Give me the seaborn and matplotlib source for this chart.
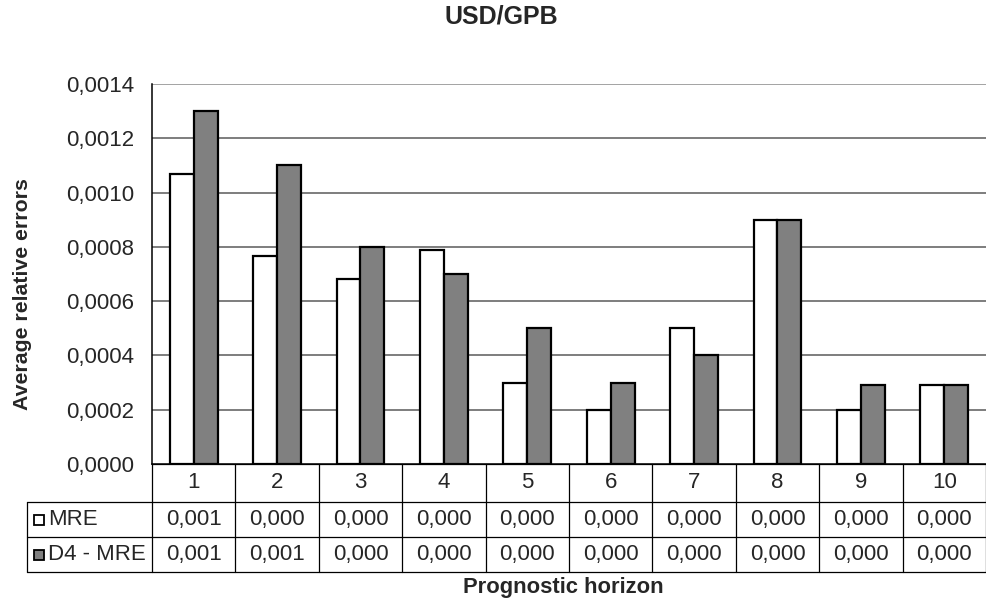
import numpy as np
import pandas as pd
import matplotlib
matplotlib.use("Agg")
import matplotlib.pyplot as plt
import matplotlib.transforms as mtransforms
from matplotlib.lines import Line2D
from matplotlib.patches import Rectangle
import seaborn as sns

# Average relative errors per prognostic horizon
horizons = ["1", "2", "3", "4", "5", "6", "7", "8", "9", "10"]
mre = [0.00107, 0.000765, 0.00068, 0.00079, 0.0003, 0.0002, 0.0005, 0.0009, 0.0002, 0.00029]
d4_mre = [0.0013, 0.0011, 0.0008, 0.0007, 0.0005, 0.0003, 0.0004, 0.0009, 0.00029, 0.00029]
series_names = ["MRE", "D4 - MRE"]
series_colors = ["#FFFFFF", "#808080"]
y_ticks = [0.0, 0.0002, 0.0004, 0.0006, 0.0008, 0.0010, 0.0012, 0.0014]

df = pd.DataFrame({
    "horizon": horizons * 2,
    "value": mre + d4_mre,
    "series": [series_names[0]] * len(horizons) + [series_names[1]] * len(horizons),
})

sns.set_theme(style="white")
plt.rcParams["font.family"] = ["Liberation Sans", "DejaVu Sans"]

W, H = 987, 603
fig = plt.figure(figsize=(W / 100, H / 100), dpi=100)
ax_left, ax_right, ax_top, ax_bottom = 152, 986, 84, 464
ax = fig.add_axes([ax_left / W, 1 - ax_bottom / H, (ax_right - ax_left) / W, (ax_bottom - ax_top) / H])

sns.barplot(data=df, x="horizon", y="value", hue="series", order=horizons,
            hue_order=series_names, palette=dict(zip(series_names, series_colors)),
            width=0.575, edgecolor="black", linewidth=1.6, saturation=1,
            legend=False, ax=ax, zorder=3)

ax.set_xlim(-0.5, len(horizons) - 0.5)
ax.set_ylim(0, 0.0014)
ax.set_yticks(y_ticks)
ax.set_yticklabels([f"{t:.4f}".replace(".", ",") for t in y_ticks], fontsize=16)
ax.set_xticks([])
ax.set_xlabel("")
ax.set_ylabel("")
for t in y_ticks[1:]:
    ax.axhline(t, color="#5a5a5a" if t < 0.0014 else "#8a8a8a", lw=1.1, zorder=1)
ax.tick_params(axis="y", direction="out", length=7, width=1, color="black", pad=6)
for side in ["top", "right"]:
    ax.spines[side].set_visible(False)
ax.spines["left"].set_color("black")
ax.spines["left"].set_linewidth(1.1)
ax.spines["bottom"].set_color("black")
ax.spines["bottom"].set_linewidth(1.1)

# Data table below the axes: x follows the category axis, y in figure pixels
tr = mtransforms.blended_transform_factory(ax.transData, fig.transFigure)
def fy(py):
    return 1 - py / H

unit = (ax_right - ax_left) / len(horizons)
label_left = -0.5 - (ax_left - 27) / unit
row_edges = [464, 502, 537, 572]
line_kw = dict(color="black", lw=0.9, transform=tr, clip_on=False)

# horizontal rules
fig.add_artist(Line2D([-0.5, len(horizons) - 0.5], [fy(row_edges[0])] * 2, **line_kw))
for py in row_edges[1:]:
    fig.add_artist(Line2D([label_left, len(horizons) - 0.5], [fy(py)] * 2, **line_kw))
# vertical rules
for k in range(len(horizons) + 1):
    fig.add_artist(Line2D([k - 0.5, k - 0.5], [fy(row_edges[0]), fy(row_edges[-1])], **line_kw))
fig.add_artist(Line2D([label_left, label_left], [fy(row_edges[1]), fy(row_edges[-1])], **line_kw))

def fmt_trunc(v):
    # values shown truncated to three decimals
    return f"{np.floor(v * 1000 + 1e-9) / 1000:.3f}".replace(".", ",")

cell_font = dict(fontsize=16, ha="center", va="center", transform=tr)
for i, h in enumerate(horizons):
    fig.text(i, fy((row_edges[0] + row_edges[1]) / 2), h, **cell_font)
    fig.text(i, fy((row_edges[1] + row_edges[2]) / 2), fmt_trunc(mre[i]), **cell_font)
    fig.text(i, fy((row_edges[2] + row_edges[3]) / 2), fmt_trunc(d4_mre[i]), **cell_font)

# row labels with legend keys
sq = 10
for r, (name, col) in enumerate(zip(series_names, series_colors)):
    yc = (row_edges[r + 1] + row_edges[r + 2]) / 2
    fig.add_artist(Rectangle((34 / W, fy(yc + sq / 2)), sq / W, sq / H,
                             transform=fig.transFigure, facecolor=col,
                             edgecolor="black", lw=1.3, clip_on=False))
    fig.text(48 / W, fy(yc), name, fontsize=16, ha="left", va="center")

fig.text(501 / W, fy(17), "USD/GPB", fontsize=18, fontweight="bold", ha="center", va="center")
fig.text(23 / W, fy(294), "Average relative errors", fontsize=15.3, fontweight="bold",
         rotation=90, ha="center", va="center")
fig.text(563 / W, fy(588), "Prognostic horizon", fontsize=15.8, fontweight="bold",
         ha="center", va="center")

fig.savefig("out.png", dpi=100, facecolor="white")
